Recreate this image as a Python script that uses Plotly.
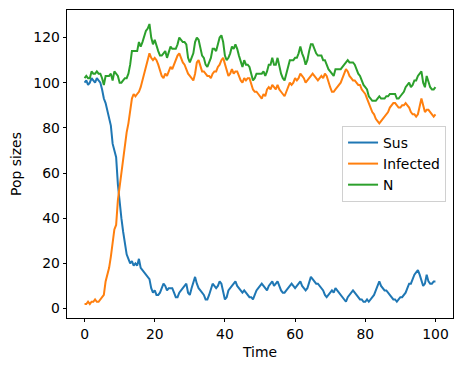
import numpy as np
import plotly.graph_objects as go

# Time grid (step 0.5)
time = [i * 0.5 for i in range(201)]

sus = [
    100, 101, 99, 100, 102, 101, 100, 102, 101, 100,
    97, 93, 91, 88, 85, 81, 73, 70, 67, 55,
    46, 40, 34, 28, 24, 22, 20, 21, 19, 20,
    19, 22, 18, 17, 16, 15, 14, 13, 9, 7,
    8, 6, 6, 7, 9, 11, 10, 8, 9, 9,
    9, 7, 5, 5, 7, 8, 9, 10, 11, 7,
    6, 9, 12, 14, 11, 9, 8, 7, 6, 4,
    4, 6, 9, 11, 10, 9, 10, 12, 11, 7,
    4, 5, 8, 9, 10, 11, 12, 10, 9, 8,
    7, 8, 7, 6, 5, 5, 4, 6, 8, 9,
    10, 11, 10, 9, 8, 10, 11, 12, 10, 11,
    12, 10, 8, 7, 7, 8, 9, 10, 11, 10,
    9, 10, 11, 12, 10, 9, 8, 9, 12, 14,
    13, 12, 11, 11, 10, 9, 8, 6, 5, 6,
    7, 8, 7, 9, 8, 7, 6, 5, 4, 3,
    5, 6, 7, 8, 7, 6, 5, 4, 4, 3,
    3, 4, 3, 4, 5, 6, 8, 10, 12, 10,
    9, 8, 8, 7, 6, 5, 4, 4, 3, 4,
    5, 5, 6, 7, 9, 11, 11, 13, 15, 16,
    17, 15, 12, 10, 11, 15, 12, 11, 11, 12,
    12,
]

infected = [
    2, 2, 3, 2, 3, 3, 4, 3, 3, 4,
    5, 6, 12, 15, 18, 23, 28, 35, 37, 48,
    54, 60, 67, 74, 78, 82, 88, 93, 95, 94,
    95, 96, 98, 101, 105, 108, 110, 113, 111, 110,
    111, 110, 108, 105, 103, 102, 104, 103, 105, 107,
    106, 108, 110, 112, 113, 111, 109, 108, 106, 104,
    103, 102, 101, 104, 109, 110, 107, 105, 105, 104,
    103, 103, 102, 104, 105, 105, 107, 108, 110, 111,
    108, 105, 103, 104, 106, 104, 105, 105, 103, 101,
    100, 102, 101, 102, 102, 99, 97, 96, 96, 95,
    94, 93, 95, 94, 97, 98, 97, 99, 98, 97,
    99, 97, 96, 95, 94, 96, 98, 100, 99, 100,
    102, 101, 102, 104, 103, 102, 100, 101, 102, 103,
    104, 103, 102, 101, 102, 103, 102, 104, 103, 100,
    98, 96, 96, 97, 98, 99, 100, 102, 104, 106,
    105, 103, 102, 101, 101, 100, 99, 99, 97, 96,
    95, 93, 91, 89, 87, 86, 84, 83, 82, 83,
    84, 85, 86, 87, 89, 90, 91, 91, 90, 89,
    89, 90, 90, 91, 90, 89, 87, 86, 86, 85,
    86, 89, 93, 90, 87, 88, 88, 87, 86, 85,
    86,
]

total = list(np.array(sus) + np.array(infected))

series_names = ["Sus", "Infected", "N"]
colors = ["#1f77b4", "#ff7f0e", "#2ca02c"]

x_ticks = [0, 20, 40, 60, 80, 100]
y_ticks = [0, 20, 40, 60, 80, 100, 120]

font = "DejaVu Sans"

fig = go.Figure()
for name, vals, c in zip(series_names, [sus, infected, total], colors):
    fig.add_trace(go.Scatter(x=time, y=vals, mode="lines", name=name,
                             line=dict(color=c, width=2.0)))

axis_common = dict(
    showline=True, linecolor="black", linewidth=0.8, mirror=True,
    ticks="outside", ticklen=3.5, tickwidth=0.8, tickcolor="black",
    showgrid=False, zeroline=False, automargin=False,
    tickfont=dict(family=font, size=13.9, color="black"),
)

fig.update_layout(
    width=463, height=371,
    margin=dict(l=67, r=10, t=10, b=53, autoexpand=False),
    paper_bgcolor="white", plot_bgcolor="white",
    font=dict(family=font, size=13.9, color="black"),
    showlegend=True,
    legend=dict(x=0.982, xanchor="right", y=0.5, yanchor="middle",
                bgcolor="rgba(255,255,255,0.8)", bordercolor="#d0d0d0",
                borderwidth=1, font=dict(family=font, size=13.9, color="black"),
                tracegroupgap=0),
    xaxis=dict(range=[-5, 105], tickvals=x_ticks,
               title=dict(text="Time", standoff=6,
                          font=dict(family=font, size=13.9, color="black")),
               **axis_common),
    yaxis=dict(range=[-4.2, 132.2], tickvals=y_ticks,
               title=dict(text="Pop sizes", standoff=8,
                          font=dict(family=font, size=13.9, color="black")),
               **axis_common),
)

fig.write_html("out.html", config={"displayModeBar": False},
               post_script="document.body.style.margin='0';")
